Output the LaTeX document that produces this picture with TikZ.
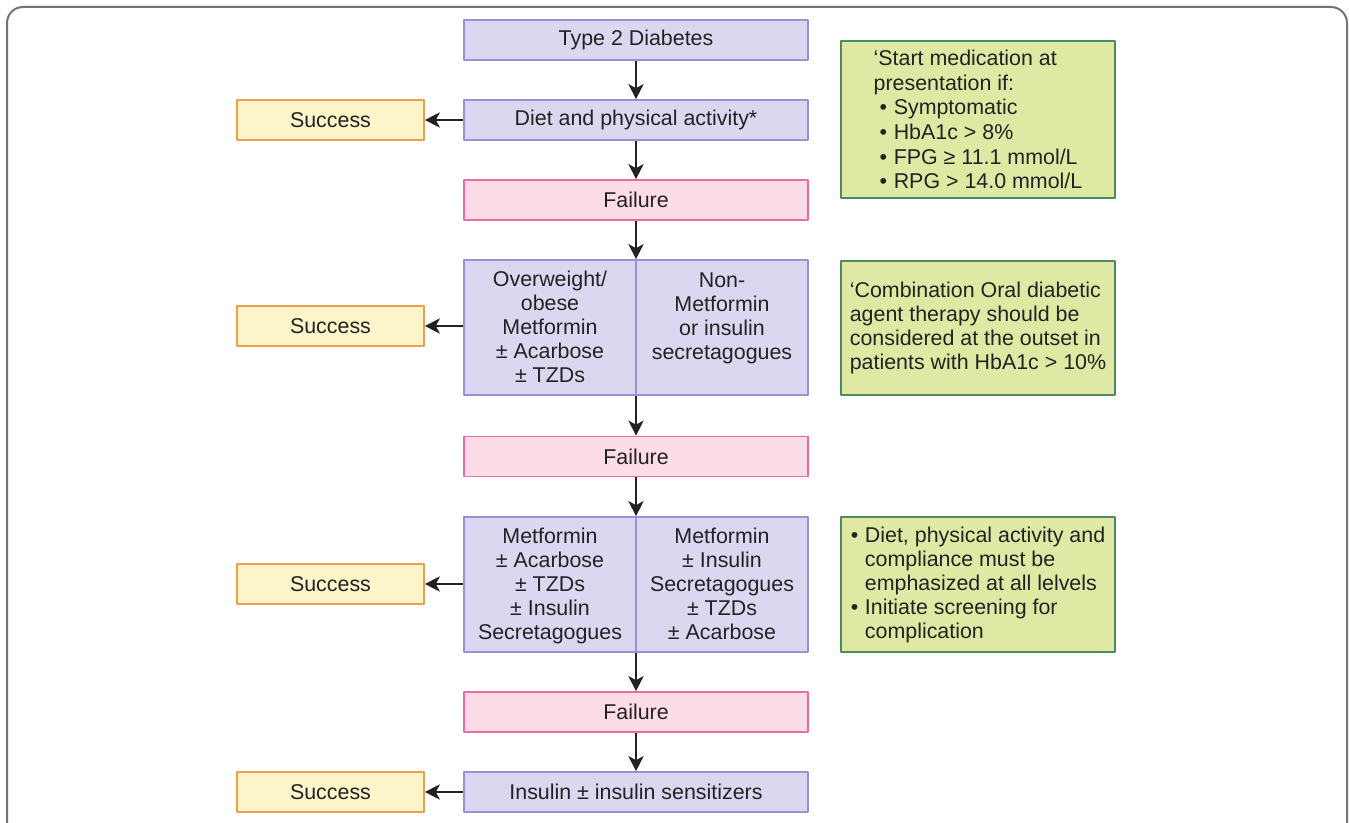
\documentclass[tikz,border=0pt]{standalone}
\usepackage{fontspec}
\setmainfont{Liberation Sans}
\usetikzlibrary{arrows.meta}

\definecolor{framegray}{HTML}{737378}
\definecolor{textdark}{HTML}{222222}
\definecolor{lavfill}{HTML}{DAD8F0}
\definecolor{lavline}{HTML}{9C90D4}
\definecolor{pinkfill}{HTML}{FBDCE7}
\definecolor{pinkline}{HTML}{EC6CA0}
\definecolor{yelfill}{HTML}{FDF5CA}
\definecolor{yelline}{HTML}{F39C4C}
\definecolor{grnfill}{HTML}{E0E9A4}
\definecolor{grnline}{HTML}{4A8C5C}

\newcommand\bul{\makebox[0.66em][l]{\textbullet}}
\newcommand\ind{\hspace*{0.66em}}

\tikzset{
  boxbase/.style={draw, line width=0.8pt, inner sep=0pt, text=textdark,
    font=\fontsize{10.7}{12}\selectfont, align=center},
  mainbox/.style={boxbase, fill=lavfill, draw=lavline,
    minimum width=172pt, minimum height=20pt},
  combobox/.style={mainbox, minimum height=67.5pt},
  failbox/.style={boxbase, fill=pinkfill, draw=pinkline,
    minimum width=172pt, minimum height=20pt},
  successbox/.style={boxbase, fill=yelfill, draw=yelline,
    minimum width=93.5pt, minimum height=20pt},
  notebox/.style={boxbase, fill=grnfill, draw=grnline,
    minimum width=137pt, align=left},
  coltext/.style={inner sep=0pt, text=textdark, anchor=north,
    font=\fontsize{10.7}{12}\selectfont, align=center},
  flow/.style={line width=1.2pt, draw=textdark,
    -{Stealth[length=7.5pt,width=7.5pt,inset=2pt]}},
}

\begin{document}
\begin{tikzpicture}[x=0.5pt,y=-0.5pt,line join=round]
  % Page frame of the original figure, open at the bottom edge.
  \useasboundingbox (0,0) rectangle (1349,823);
  \clip (0,0) rectangle (1349,823);
  \draw[framegray, line width=1pt, rounded corners=8pt]
    (7,850) -- (7,7) -- (1347,7) -- (1347,850);

  % Main treatment column.
  \node[mainbox] (t2d) at (636,40) {Type 2 Diabetes};
  \node[mainbox] (diet) at (636,120) {Diet and physical activity*};
  \node[failbox] (fail1) at (636,200) {Failure};
  \node[combobox] (oral1) at (636,327.5) {};
  \node[failbox] (fail2) at (636,456.5) {Failure};
  \node[combobox] (oral2) at (636,584.5) {};
  \node[failbox] (fail3) at (636,712) {Failure};
  \node[mainbox] (insulin) at (636,792) {Insulin ± insulin sensitizers};

  % Split the two combination boxes into columns.
  \draw[lavline, line width=0.8pt] (oral1.north) -- (oral1.south);
  \draw[lavline, line width=0.8pt] (oral2.north) -- (oral2.south);
  \node[coltext] (oral1l) at (550,271)
    {Overweight/\\obese\\Metformin\\± Acarbose\\± TZDs};
  \node[coltext] (oral1r) at (722,272)
    {Non-\\Metformin\\or insulin\\secretagogues};
  \node[coltext] (oral2l) at (550,528)
    {Metformin\\± Acarbose\\± TZDs\\± Insulin\\Secretagogues};
  \node[coltext] (oral2r) at (722,528)
    {Metformin\\± Insulin\\Secretagogues\\± TZDs\\± Acarbose};

  % Success outcomes on the left.
  \node[successbox] (succ1) at (330.5,120) {Success};
  \node[successbox] (succ2) at (330.5,326) {Success};
  \node[successbox] (succ3) at (330.5,584) {Success};
  \node[successbox] (succ4) at (330.5,792) {Success};

  % Notes on the right.
  \node[notebox, minimum height=78.5pt,
        font=\fontsize{10.7}{12.3}\selectfont] (note1) at (978,119.5)
    {‘Start medication at\\presentation if:\\
     \hspace*{3pt}\bul Symptomatic\\
     \hspace*{3pt}\bul HbA1c > 8\%\\
     \hspace*{3pt}\bul FPG ≥ 11.1 mmol/L\\
     \hspace*{3pt}\bul RPG > 14.0 mmol/L};
  \node[notebox, minimum height=67pt] (note2) at (978,328)
    {‘Combination Oral diabetic\\agent therapy should be\\
     considered at the outset in\\patients with HbA1c > 10\%};
  \node[notebox, minimum height=67.5pt] (note3) at (978,584.5)
    {\bul Diet, physical activity and\\\ind compliance must be\\
     \ind emphasized at all lelvels\\\bul Initiate screening for\\
     \ind complication};

  % Downward flow.
  \draw[flow] (t2d) -- (diet);
  \draw[flow] (diet) -- (fail1);
  \draw[flow] (fail1) -- (oral1);
  \draw[flow] (oral1) -- (fail2);
  \draw[flow] (fail2) -- (oral2);
  \draw[flow] (oral2) -- (fail3);
  \draw[flow] (fail3) -- (insulin);

  % Branches to success.
  \draw[flow] (diet) -- (succ1);
  \draw[flow] (oral1.west |- succ2) -- (succ2);
  \draw[flow] (oral2.west |- succ3) -- (succ3);
  \draw[flow] (insulin) -- (succ4);
\end{tikzpicture}
\end{document}
